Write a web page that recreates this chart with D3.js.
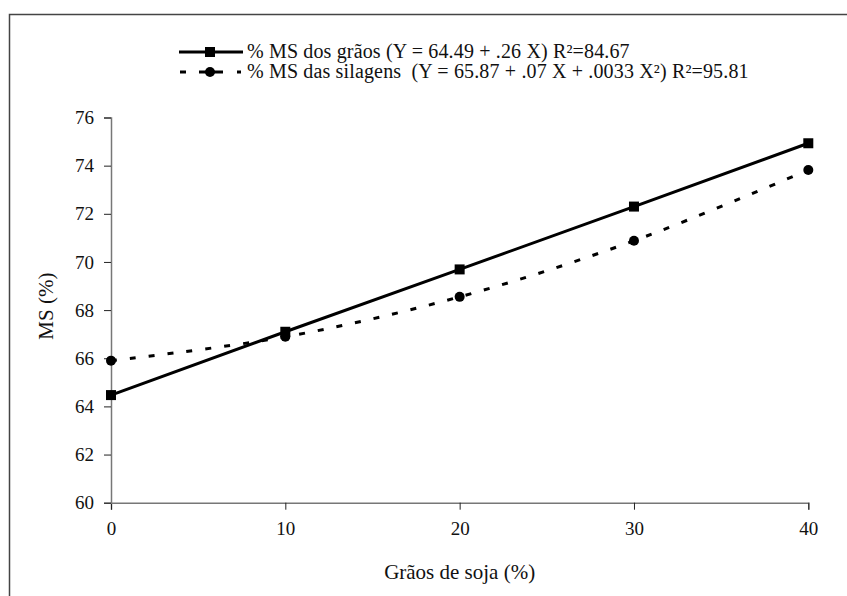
<!DOCTYPE html>
<html>
<head>
<meta charset="utf-8">
<script src="https://cdn.jsdelivr.net/npm/d3@7"></script>
<style>
  body { margin: 0; background: #fff; }
  svg text { font-family: "Liberation Serif", "Times New Roman", Tinos, "DejaVu Serif", serif !important; fill: #111; }
</style>
</head>
<body>
<div id="chart"></div>
<script>
// Create data
var soja = [0, 10, 20, 30, 40];
var msGraos = [64.47, 67.1, 69.69, 72.3, 74.93];
var msSilagens = [65.9, 66.89, 68.55, 70.88, 73.82];
var yTicks = [60, 62, 64, 66, 68, 70, 72, 74, 76];
var legendLabels = [
    '% MS dos grãos (Y = 64.49 + .26 X) R²=84.67',
    '% MS das silagens  (Y = 65.87 + .07 X + .0033 X²) R²=95.81'
];

var margin = { top: 117.5, right: 38.7, bottom: 93.3, left: 111 },
    W = 847, H = 596,
    width = W - margin.left - margin.right,
    height = H - margin.top - margin.bottom;

var svg = d3.select("#chart").append("svg")
    .attr("width", W)
    .attr("height", H);

// outer frame
svg.append("rect")
    .attr("x", 9.5).attr("y", 14.5)
    .attr("width", 860).attr("height", 620)
    .style("fill", "none")
    .style("stroke", "#444")
    .style("stroke-width", 1.5);

var g = svg.append("g")
    .attr("transform", "translate(" + margin.left + "," + margin.top + ")");

var x = d3.scaleLinear().domain([0, 40]).range([0, width]);
var y = d3.scaleLinear().domain([60, 76]).range([height, 0]);

// x axis
var xAxis = g.append("g")
    .attr("transform", "translate(0," + height + ")")
    .call(d3.axisBottom(x).tickValues(soja).tickSize(7).tickPadding(12).tickFormat(d3.format("d")));
// y axis
var yAxis = g.append("g")
    .call(d3.axisLeft(y).tickValues(yTicks).tickSize(7).tickPadding(10).tickFormat(d3.format("d")));

[xAxis, yAxis].forEach(function (a) {
    a.attr("font-family", null);
    a.select(".domain").style("stroke", "#777").style("stroke-width", 1.5);
    a.selectAll(".tick line").style("stroke", "#222").style("stroke-width", 1);
    a.selectAll(".tick text")
        .style("font-size", "19px")
        .style("fill", "#111");
});

g.append("text")
    .attr("x", width / 2)
    .attr("y", height + 76)
    .style("text-anchor", "middle")
    .style("font-size", "21px")
    .text("Grãos de soja (%)");

g.append("text")
    .attr("transform", "rotate(-90)")
    .attr("x", -height / 2 + 4)
    .attr("y", -58)
    .style("text-anchor", "middle")
    .style("font-size", "21px")
    .text("MS (%)");

var graos = soja.map(function (d, i) { return { x: d, y: msGraos[i] }; });
var silagens = soja.map(function (d, i) { return { x: d, y: msSilagens[i] }; });

var line = d3.line()
    .x(function (d) { return x(d.x); })
    .y(function (d) { return y(d.y); });
var smooth = d3.line()
    .curve(d3.curveCatmullRom.alpha(0.5))
    .x(function (d) { return x(d.x); })
    .y(function (d) { return y(d.y); });

g.append("path")
    .datum(silagens)
    .attr("d", smooth)
    .style("fill", "none")
    .style("stroke", "#000")
    .style("stroke-width", 3)
    .style("stroke-dasharray", "6,13");

g.append("path")
    .datum(graos)
    .attr("d", line)
    .style("fill", "none")
    .style("stroke", "#000")
    .style("stroke-width", 3);

g.selectAll(".sq")
    .data(graos)
    .enter().append("rect")
    .attr("class", "sq")
    .attr("x", function (d) { return x(d.x) - 5; })
    .attr("y", function (d) { return y(d.y) - 5; })
    .attr("width", 10).attr("height", 10)
    .style("fill", "#000");

g.selectAll(".dot")
    .data(silagens)
    .enter().append("circle")
    .attr("class", "dot")
    .attr("cx", function (d) { return x(d.x); })
    .attr("cy", function (d) { return y(d.y); })
    .attr("r", 5)
    .style("fill", "#000");

// legend
var legend = svg.append("g");
var ly = [52, 72];
legend.append("line")
    .attr("x1", 179).attr("x2", 243).attr("y1", ly[0]).attr("y2", ly[0])
    .style("stroke", "#000").style("stroke-width", 3);
legend.append("rect")
    .attr("x", 205).attr("y", ly[0] - 5).attr("width", 10).attr("height", 10)
    .style("fill", "#000");
legend.append("line")
    .attr("x1", 180).attr("x2", 242).attr("y1", ly[1]).attr("y2", ly[1])
    .style("stroke", "#000").style("stroke-width", 3)
    .style("stroke-dasharray", "6,13,24,14,4,100");
legend.append("circle")
    .attr("cx", 210).attr("cy", ly[1]).attr("r", 5)
    .style("fill", "#000");
legend.selectAll(".lt")
    .data(legendLabels)
    .enter().append("text")
    .attr("class", "lt")
    .attr("x", 247)
    .attr("y", function (d, i) { return ly[i] + 6; })
    .style("font-size", "20px")
    .style("letter-spacing", "0.15px")
    .style("white-space", "pre")
    .text(function (d) { return d; });
</script>
</body>
</html>
